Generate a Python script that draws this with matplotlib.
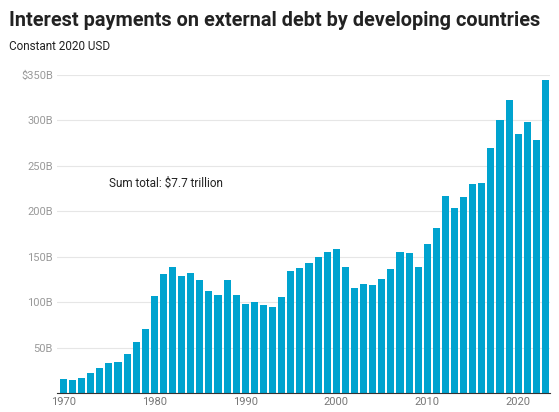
import matplotlib
matplotlib.use("Agg")
import matplotlib.pyplot as plt

years = list(range(1970, 2024))
values = [15,14,17,22,28,33,34,43,56,70,107,131,139,129,132,124,112,108,124,108,
          98,100,97,95,106,134,138,143,150,155,158,139,116,120,119,126,137,155,154,139,
          164,182,217,204,216,230,231,270,301,322,285,298,278,344]
yticks = [50,100,150,200,250,300,350]
ylabels = ["50B","100B","150B","200B","250B","300B","$350B"]
xticks = [1970,1980,1990,2000,2010,2020]

plt.rcParams['font.family'] = ['Roboto', 'DejaVu Sans']
fig = plt.figure(figsize=(5.59,4.12), dpi=100)
ax = fig.add_axes([0.102,0.046,0.882,0.772])
ax.bar(years, values, width=0.78, color='#00a3cf', zorder=2)
ax.set_ylim(0,350)
ax.set_xlim(1969.3, 2023.5)
ax.set_yticks(yticks)
ax.set_yticklabels(ylabels, color='#999999', fontsize=8)
ax.set_xticks(xticks)
ax.set_xticklabels([str(x) for x in xticks], color='#777777', fontsize=8)
ax.grid(axis='y', color='#e6e6e6', lw=0.8, zorder=0)
for s in ['top','right','left']:
    ax.spines[s].set_visible(False)
ax.spines['bottom'].set_color('#333333')
ax.tick_params(length=0, pad=3)
ax.text(1975, 231, "Sum total: $7.7 trillion", fontsize=8.5, color='#222222', va='center')
fig.text(0.016, 0.95, "Interest payments on external debt by developing countries",
         fontsize=14.3, fontweight='bold', color='#222222', va='center')
fig.text(0.016, 0.886, "Constant 2020 USD", fontsize=8.5, color='#222222', va='center')
fig.savefig("out.png", dpi=100)
